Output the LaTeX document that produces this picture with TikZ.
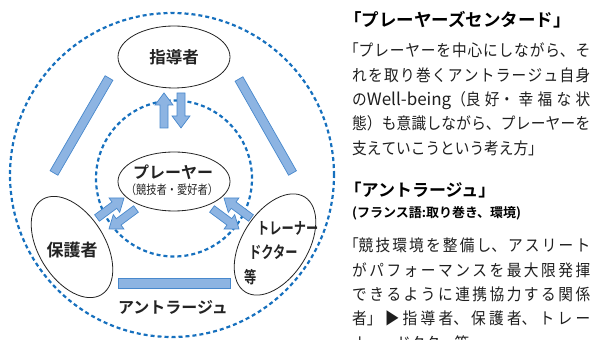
\documentclass[tikz,border=0pt]{standalone}
\usepackage{fontspec}
\usepackage{graphicx}
\setmainfont{Noto Sans CJK JP}[BoldFont={Noto Sans CJK JP Bold}]
\newfontfamily\bodyfont{Noto Sans CJK JP}[FakeStretch=0.9]
\newfontfamily\latinfont{Noto Sans CJK JP}
\newfontfamily\smallfont{Noto Sans CJK JP}[FakeStretch=0.82]
\newfontfamily\narrowbold{Noto Sans CJK JP Bold}[FakeStretch=0.74]
\usetikzlibrary{calc,shapes.geometric}
\definecolor{dotblue}{RGB}{22,112,190}
\definecolor{barfill}{RGB}{141,180,226}
\definecolor{barline}{RGB}{72,136,204}
\definecolor{txt}{RGB}{35,35,35}
\definecolor{bodytxt}{RGB}{30,30,30}
\XeTeXlinebreaklocale "ja"
\XeTeXlinebreakskip=0pt plus 8pt
\newcommand\blockarr[3]{\draw[barbox, shift={(#1)}, rotate=#2] (0,-4) -- (#3-12,-4) -- (#3-12,-9) -- (#3,0) -- (#3-12,9) -- (#3-12,4) -- (0,4) -- cycle;}
\newcommand\slantbar[2]{\draw[barbox] ($(#1)!4.5pt!90:(#2)$) -- ($(#2)!4.5pt!-90:(#1)$) -- ($(#2)!4.5pt!90:(#1)$) -- ($(#1)!4.5pt!-90:(#2)$) -- cycle;}
\begin{document}
\begin{tikzpicture}[x=1pt,y=1pt,
  dotcircle/.style={draw=dotblue, line width=2.2pt, dash pattern=on 4pt off 3pt},
  oval/.style={ellipse, draw=txt, line width=0.8pt, fill=white, inner sep=0pt},
  barbox/.style={fill=barfill, draw=barline, line width=0.7pt},
  lbl/.style={font=\bfseries\fontsize{16.5}{18}\selectfont, text=txt, inner sep=0pt},
  narrowlbl/.style={font=\narrowbold\fontsize{16.5}{18}\selectfont, text=txt, inner sep=0pt, anchor=west},
  head/.style={font=\bfseries\fontsize{17.5}{20}\selectfont, text=black, inner sep=0pt, anchor=west},
  para/.style={font=\bodyfont\fontsize{16.3}{24.3}\selectfont, text=bodytxt, inner sep=0pt, anchor=north west, text width=238pt, align=justify}
]
\clip (0,0) rectangle (595,340);
% dotted circles
\coordinate (oc) at (172,165);
\coordinate (ic) at (174,161.5);
\draw[dotcircle] (oc) circle (162);
\draw[dotcircle] (ic) circle (78);
% ovals
\node[oval, minimum width=112pt, minimum height=62pt] (coach) at (174,283) {};
\node[oval, minimum width=112pt, minimum height=59pt] (player) at (174,158.5) {};
\node[oval, minimum width=112pt, minimum height=66pt, rotate=-58] (parent) at (72,93) {};
\node[oval, minimum width=112pt, minimum height=66pt, rotate=58] (trainer) at (275,95.5) {};
% bars
\coordinate (lb1) at (109,262); \coordinate (lb2) at (54,167);
\coordinate (rb1) at (239,261); \coordinate (rb2) at (292.5,167);
\slantbar{lb1}{lb2}
\slantbar{rb1}{rb2}
\draw[barbox] (118,52) rectangle (230,62);
% arrows
\blockarr{164,212}{90}{35}
\blockarr{181,247}{-90}{35}
\blockarr{97,122}{36.5}{33.6}
\blockarr{136,131}{216.5}{33.6}
\blockarr{251,122}{143.5}{33.6}
\blockarr{212,131}{-36.5}{33.6}
% labels
\node[lbl] (lcoach) at (174,283) {指導者};
\node[lbl, font=\bfseries\fontsize{16}{18}\selectfont] (lplayer) at (173,168) {プレーヤー};
\node[inner sep=0pt, text=txt, font=\smallfont\fontsize{12.5}{14}\selectfont] (lplayer2) at (172,150) {（競技者・愛好者）};
\node[lbl, font=\bfseries\fontsize{17}{19}\selectfont] (lparent) at (72,90) {保護者};
\node[narrowlbl] (ltr1) at (257,112) {トレーナー};
\node[narrowlbl] (ltr2) at (249,88) {ドクター};
\node[narrowlbl] (ltr3) at (244,63) {等};
\node[lbl, font=\bfseries\fontsize{16}{18}\selectfont] (lent) at (173,33) {アントラージュ};
% right text
\node[head] (h1) at (344,320) {「プレーヤーズセンタード」};
\node[para] (p1) at (352,297) {\noindent\hspace*{-0.5em}「プレーヤーを中心にしながら、そ\linebreak れを取り巻くアントラージュ自身\linebreak の{\latinfont\fontsize{17}{24.3}\selectfont Well-being}（良好・幸福な状\linebreak 態）も意識しながら、プレーヤーを\linebreak 支えていこうという考え方」};
\node[head, font=\bfseries\fontsize{17}{20}\selectfont] (h2) at (344.5,150) {「アントラージュ」};
\node[inner sep=0pt, anchor=west, text=black, font=\bfseries\fontsize{13}{15}\selectfont] (h3) at (352,127) {(フランス語:取り巻き、環境)};
\node[para] (p2) at (352,102) {\noindent\hspace*{-0.5em}「競技環境を整備し、アスリート\linebreak がパフォーマンスを最大限発揮\linebreak できるように連携協力する関係\linebreak 者」▶指導者、保護者、トレー\linebreak ナー、ドクター等};
\end{tikzpicture}
\end{document}
